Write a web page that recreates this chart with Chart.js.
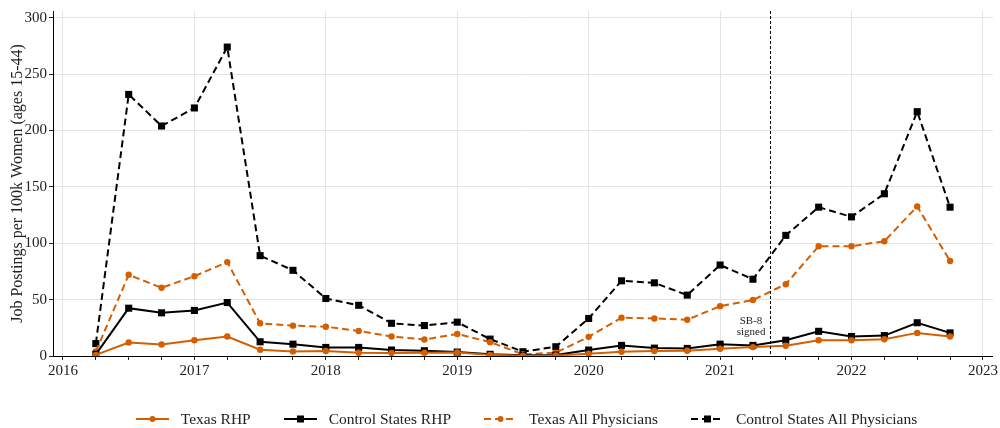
<!DOCTYPE html>
<html>
<head>
<meta charset="utf-8">
<script src="https://cdn.jsdelivr.net/npm/chart.js@4/dist/chart.umd.min.js"></script>
<style>
  html, body { margin: 0; padding: 0; background: #fff; }
  #wrap { width: 1000px; height: 428px; position: relative; }
  #legend { position: absolute; left: 53px; right: 0; top: 408px; height: 22px;
            display: flex; justify-content: center; align-items: center;
            font-family: 'Liberation Serif', 'DejaVu Serif', serif; font-size: 15.5px; color: #222; }
  .item { display: flex; align-items: center; margin: 0 16.5px; white-space: nowrap; }
  .item canvas { margin-right: 12px; }
</style>
</head>
<body>
<div id="wrap"><canvas id="c" width="1000" height="428"></canvas><div id="legend"></div></div>
<script>
const quarters = [2016.25, 2016.5, 2016.75, 2017.0, 2017.25, 2017.5, 2017.75, 2018.0, 2018.25, 2018.5, 2018.75, 2019.0, 2019.25, 2019.5, 2019.75, 2020.0, 2020.25, 2020.5, 2020.75, 2021.0, 2021.25, 2021.5, 2021.75, 2022.0, 2022.25, 2022.5, 2022.75];
const texasRHP = [1, 12, 10.2, 14, 17.3, 5.5, 4.1, 4.4, 2.9, 2.6, 2.9, 3.2, 1, 0.3, 0.5, 2, 3.8, 4.4, 4.7, 6.4, 7.9, 9.1, 14, 14, 14.9, 20.5, 17.3];
const controlRHP = [1.5, 42.4, 38.3, 40.4, 47.4, 12.6, 10.5, 7.6, 7.6, 5.3, 4.7, 3.5, 1.5, 0.6, 0.8, 5.3, 9.4, 7, 6.7, 10.5, 9.4, 14, 21.9, 17.3, 18.1, 29.5, 20.5];
const texasAll = [4, 72, 60.5, 70.8, 83.3, 29, 26.9, 26, 22.2, 17.3, 14.6, 19.6, 12.3, 1.5, 2.9, 17, 34, 33.3, 32.2, 44.2, 49.7, 63.7, 97.4, 97.4, 101.8, 132.7, 84.2];
const controlAll = [11, 232, 204, 220, 274, 89, 76, 51, 45, 29, 27, 30, 15, 3.8, 8.2, 33.3, 66.7, 64.9, 54, 80.7, 68.1, 107, 132, 123.4, 143.9, 216.7, 132];
const seriesNames = ['Texas RHP', 'Control States RHP', 'Texas All Physicians', 'Control States All Physicians'];
const yearTicks = [2016, 2017, 2018, 2019, 2020, 2021, 2022, 2023];
const yTicks = [0, 50, 100, 150, 200, 250, 300];
const sb8Date = 2021.38;
const sb8Label = ['SB-8', 'signed'];
const yTitle = 'Job Postings per 100k Women (ages 15-44)';

const ORANGE = '#d55e00';
const BLACK = '#000000';
const FONT = "'Liberation Serif', 'DejaVu Serif', serif";

function pts(vals) { return vals.map((v, i) => ({ x: quarters[i], y: v })); }

function legendIcon(color, dashed, square) {
  const cv = document.createElement('canvas');
  cv.width = 33; cv.height = 10;
  const g = cv.getContext('2d');
  g.strokeStyle = color; g.lineWidth = 2;
  if (dashed) g.setLineDash([7, 4]);
  g.beginPath(); g.moveTo(0, 5); g.lineTo(33, 5); g.stroke();
  g.setLineDash([]);
  g.fillStyle = color;
  if (square) { g.fillRect(16.5 - 3.5, 5 - 3.5, 7, 7); }
  else { g.beginPath(); g.arc(16.5, 5, 3, 0, Math.PI * 2); g.fill(); }
  return cv;
}

const sb8Plugin = {
  id: 'sb8',
  afterDatasetsDraw(chart) {
    const { ctx, chartArea, scales } = chart;
    const x = scales.x.getPixelForValue(sb8Date);
    ctx.save();
    ctx.strokeStyle = '#000'; ctx.lineWidth = 1;
    ctx.setLineDash([3, 2]);
    ctx.beginPath(); ctx.moveTo(Math.round(x) + 0.5, chartArea.top); ctx.lineTo(Math.round(x) + 0.5, chartArea.bottom); ctx.stroke();
    ctx.setLineDash([]);
    ctx.fillStyle = '#222';
    ctx.font = "11px " + FONT;
    ctx.textAlign = 'center'; ctx.textBaseline = 'middle';
    const y0 = scales.y.getPixelForValue(31);
    ctx.fillText(sb8Label[0], x - 19, y0);
    ctx.fillText(sb8Label[1], x - 19, y0 + 11);
    ctx.restore();
  }
};

const datasets = [
  { label: seriesNames[0], data: pts(texasRHP), borderColor: ORANGE, backgroundColor: ORANGE, borderWidth: 2, pointStyle: 'circle', pointRadius: 3.2, icon: legendIcon(ORANGE, false, false) },
  { label: seriesNames[1], data: pts(controlRHP), borderColor: BLACK, backgroundColor: BLACK, borderWidth: 2, pointStyle: 'rect', pointRadius: 5, icon: legendIcon(BLACK, false, true) },
  { label: seriesNames[2], data: pts(texasAll), borderColor: ORANGE, backgroundColor: ORANGE, borderWidth: 2, borderDash: [7, 4], pointStyle: 'circle', pointRadius: 3.2, icon: legendIcon(ORANGE, true, false) },
  { label: seriesNames[3], data: pts(controlAll), borderColor: BLACK, backgroundColor: BLACK, borderWidth: 2, borderDash: [7, 4], pointStyle: 'rect', pointRadius: 5, icon: legendIcon(BLACK, true, true) }
];
datasets.forEach(d => { d.pointBorderWidth = 0; d.tension = 0; d.fill = false; d.pointHoverRadius = d.pointRadius; });

const legendEl = document.getElementById('legend');
datasets.forEach(d => {
  const it = document.createElement('div');
  it.className = 'item';
  it.appendChild(d.icon);
  const sp = document.createElement('span');
  sp.textContent = d.label;
  it.appendChild(sp);
  legendEl.appendChild(it);
});

new Chart(document.getElementById('c'), {
  type: 'line',
  data: { datasets },
  plugins: [sb8Plugin],
  options: {
    responsive: false,
    animation: false,
    devicePixelRatio: 1,
    layout: { padding: { top: 7, right: 7, left: 8, bottom: 40 } },
    plugins: {
      tooltip: { enabled: false },
      legend: { display: false }
    },
    scales: {
      x: {
        type: 'linear',
        min: 2015.924,
        max: 2023.076,
        afterBuildTicks(scale) {
          const t = [];
          for (let i = 0; i < yearTicks.length; i++) {
            t.push({ value: yearTicks[i] });
            if (i < yearTicks.length - 1) {
              for (let q = 1; q < 4; q++) t.push({ value: yearTicks[i] + q / 4 });
            }
          }
          scale.ticks = t;
        },
        afterFit(scale) { scale.height = 32; },
        ticks: {
          autoSkip: false,
          maxRotation: 0,
          color: '#222',
          padding: 2,
          font: { family: FONT, size: 15 },
          callback: (v) => (Number.isInteger(v) && yearTicks.includes(v)) ? String(v) : ''
        },
        grid: {
          color: (ctx) => (ctx.tick && Number.isInteger(ctx.tick.value)) ? '#e3e3e3' : 'rgba(0,0,0,0)',
          tickColor: '#222',
          tickLength: 4,
          lineWidth: 1
        },
        border: { display: true, color: '#000', width: 1 }
      },
      y: {
        min: 0,
        max: 306,
        afterBuildTicks(scale) { scale.ticks = yTicks.map(v => ({ value: v })); },
        afterFit(scale) { scale.width = 45; },
        ticks: {
          color: '#222',
          padding: 2,
          font: { family: FONT, size: 15 }
        },
        grid: { color: '#e3e3e3', tickColor: '#222', tickLength: 4, lineWidth: 1 },
        border: { display: true, color: '#000', width: 1 },
        title: { display: true, text: yTitle, color: '#222', font: { family: FONT, size: 16 }, padding: { top: 0, bottom: 0 } }
      }
    }
  }
});
</script>
</body>
</html>
